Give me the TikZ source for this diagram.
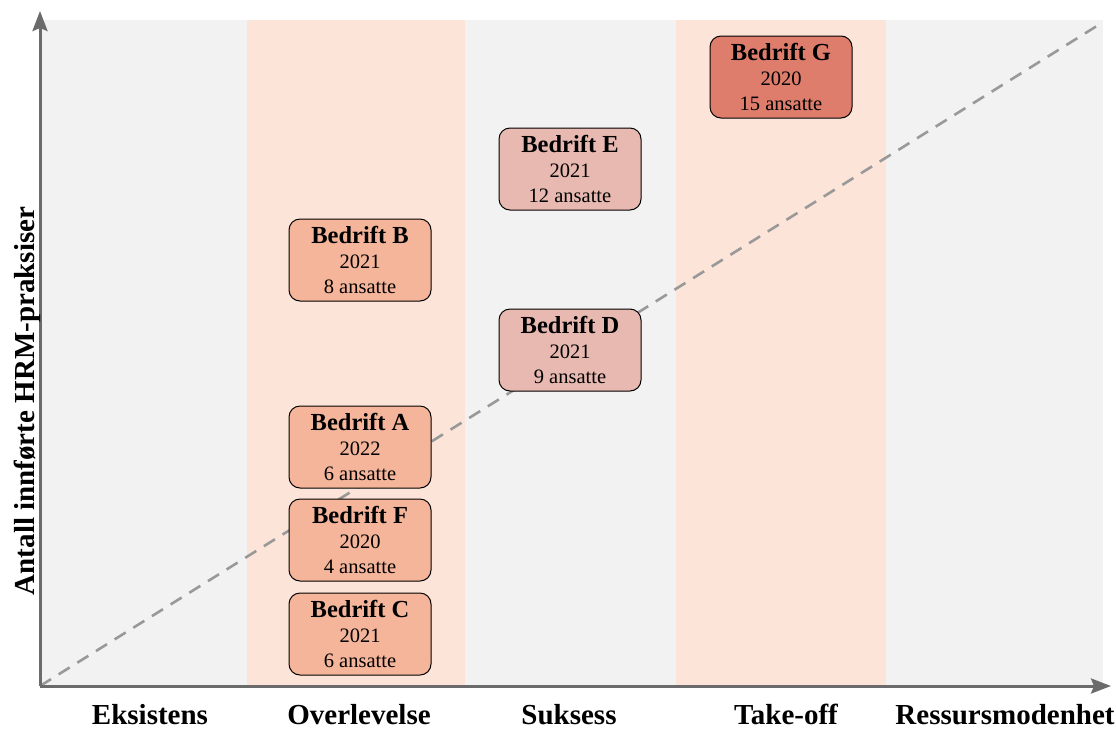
\documentclass[tikz,border=0pt]{standalone}
\usepackage{fontspec}
\setmainfont{Liberation Serif}
\usepackage{xcolor}
\usetikzlibrary{arrows.meta}

\definecolor{bandgray}{HTML}{F2F2F2}
\definecolor{bandpeach}{HTML}{FDE4D8}
\definecolor{firmpeach}{HTML}{F5B59A}
\definecolor{firmrose}{HTML}{E8B9B1}
\definecolor{firmred}{HTML}{DE7D6B}
\definecolor{axisgray}{HTML}{6B6B6B}

\newcommand{\firma}[3]{{\fontsize{24.5}{26}\selectfont\bfseries Bedrift #1}\\#2\\#3 ansatte}

\begin{document}
\begin{tikzpicture}[
		x=1pt, y=-1pt,
		firm/.style={draw, line width=1pt, rounded corners=11pt, minimum width=142pt,
			minimum height=82pt, inner sep=0pt, align=center, font=\fontsize{20.5}{25}\selectfont},
		phase/.style={anchor=base, inner sep=0pt, font=\fontsize{29}{30}\selectfont\bfseries},
		axis/.style={draw=axisgray, line width=3pt, -{Stealth[length=20pt,width=15pt,inset=3pt]}}
		]
		\useasboundingbox (0,0) rectangle (1116,729);
		% faser
		\fill[bandgray] (40,20) rectangle (247,686);
		\fill[bandpeach] (247,20) rectangle (465,686);
		\fill[bandgray] (465,20) rectangle (676,686);
		\fill[bandpeach] (676,20) rectangle (886,686);
		\fill[bandgray] (886,20) rectangle (1103,686);
		% trend
		\coordinate (origo) at (40,686);
		\coordinate (trend) at (1100,24);
		\draw[black!40, line width=2.6pt, dash pattern=on 13pt off 9pt] (origo) -- (trend);
		% akser
		\coordinate (ytop) at (40,11);
		\coordinate (xend) at (1111,686);
		\draw[axis] (origo) -- (ytop);
		\draw[axis] (origo) -- (xend);
		\node[phase, rotate=90] (ylab) at (34,401) {Antall innførte HRM-praksiser};
		\node[phase] (eks) at (150,724) {Eksistens};
		\node[phase] (ove) at (359,724) {Overlevelse};
		\node[phase] (suk) at (569,724) {Suksess};
		\node[phase] (tak) at (786,724) {Take-off};
		\node[phase] (res) at (1005,724) {Ressursmodenhet};
		% bedrifter
		\node[firm, fill=firmpeach] (B) at (360,260) {\firma{B}{2021}{8}};
		\node[firm, fill=firmpeach] (A) at (360,447) {\firma{A}{2022}{6}};
		\node[firm, fill=firmpeach] (F) at (360,540) {\firma{F}{2020}{4}};
		\node[firm, fill=firmpeach] (C) at (360,634) {\firma{C}{2021}{6}};
		\node[firm, fill=firmrose] (E) at (570,169) {\firma{E}{2021}{12}};
		\node[firm, fill=firmrose] (D) at (570,350) {\firma{D}{2021}{9}};
		\node[firm, fill=firmred] (G) at (781,77) {\firma{G}{2020}{15}};
	\end{tikzpicture}
\end{document}
